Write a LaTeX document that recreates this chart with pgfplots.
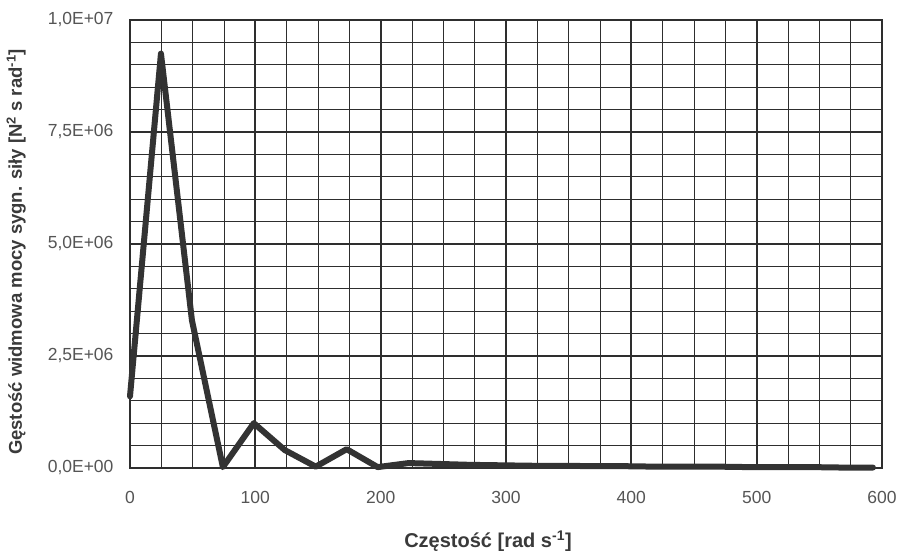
\documentclass[border=0pt]{standalone}
\usepackage{pgfplots}
\pgfplotsset{compat=1.18}
\usepackage{fontspec}
\setmainfont{Liberation Sans}
\definecolor{txt}{HTML}{555555}
\definecolor{lbl}{HTML}{3A3A3A}
\definecolor{grd}{HTML}{2E2E2E}
\definecolor{ln}{HTML}{333333}
\begin{document}
\begin{tikzpicture}
\useasboundingbox (-130pt,-83pt) rectangle (776pt,468pt);
\begin{axis}[
  at={(0,0)}, anchor=south west,
  scale only axis, width=752pt, height=448pt,
  xmin=0, xmax=600, ymin=0, ymax=1e7,
  xtick={0,100,...,600},
  ytick={0,2.5e6,5e6,7.5e6,1e7},
  yticklabels={{0,0E+00},{2,5E+06},{5,0E+06},{7,5E+06},{1,0E+07}},
  scaled y ticks=false,
  minor x tick num=3, minor y tick num=4,
  grid=both,
  major grid style={grd, line width=2.3pt},
  minor grid style={grd, line width=0.9pt},
  axis line style={grd, line width=2.3pt},
  major tick length=0pt, minor tick length=0pt,
  /pgf/number format/assume math mode=true,
  tick label style={color=txt, font=\fontsize{17.5}{19}\selectfont},
  xticklabel style={yshift=-20pt},
  yticklabel style={xshift=-13pt},
  xlabel={Częstość [rad s\textsuperscript{-1}]},
  ylabel={Gęstość widmowa mocy sygn. siły [N\textsuperscript{2} s rad\textsuperscript{-1}]},
  xlabel style={color=lbl, font=\bfseries\fontsize{20}{22}\selectfont, yshift=-20pt, xshift=-18pt},
  ylabel style={color=lbl, font=\bfseries\fontsize{18.5}{21}\selectfont, yshift=15pt, xshift=-8pt},
  clip=false,
]
\addplot[ln, line width=6pt, line join=round, line cap=round] coordinates {
(0,1.6e6) (24.7,9.25e6) (49.4,3.3e6) (74.1,0.02e6) (98.8,1.0e6) (123.5,0.4e6)
(148.2,0.03e6) (172.9,0.42e6) (197.6,0.02e6) (222.3,0.11e6) (247,0.09e6)
(271.7,0.07e6) (296.4,0.06e6) (321.1,0.05e6) (345.8,0.05e6) (370.5,0.04e6)
(395.2,0.04e6) (419.9,0.03e6) (444.6,0.03e6) (469.3,0.03e6) (494,0.02e6)
(518.7,0.02e6) (543.4,0.02e6) (568.1,0.01e6) (592.8,0.01e6)
};
\end{axis}
\end{tikzpicture}
\end{document}
